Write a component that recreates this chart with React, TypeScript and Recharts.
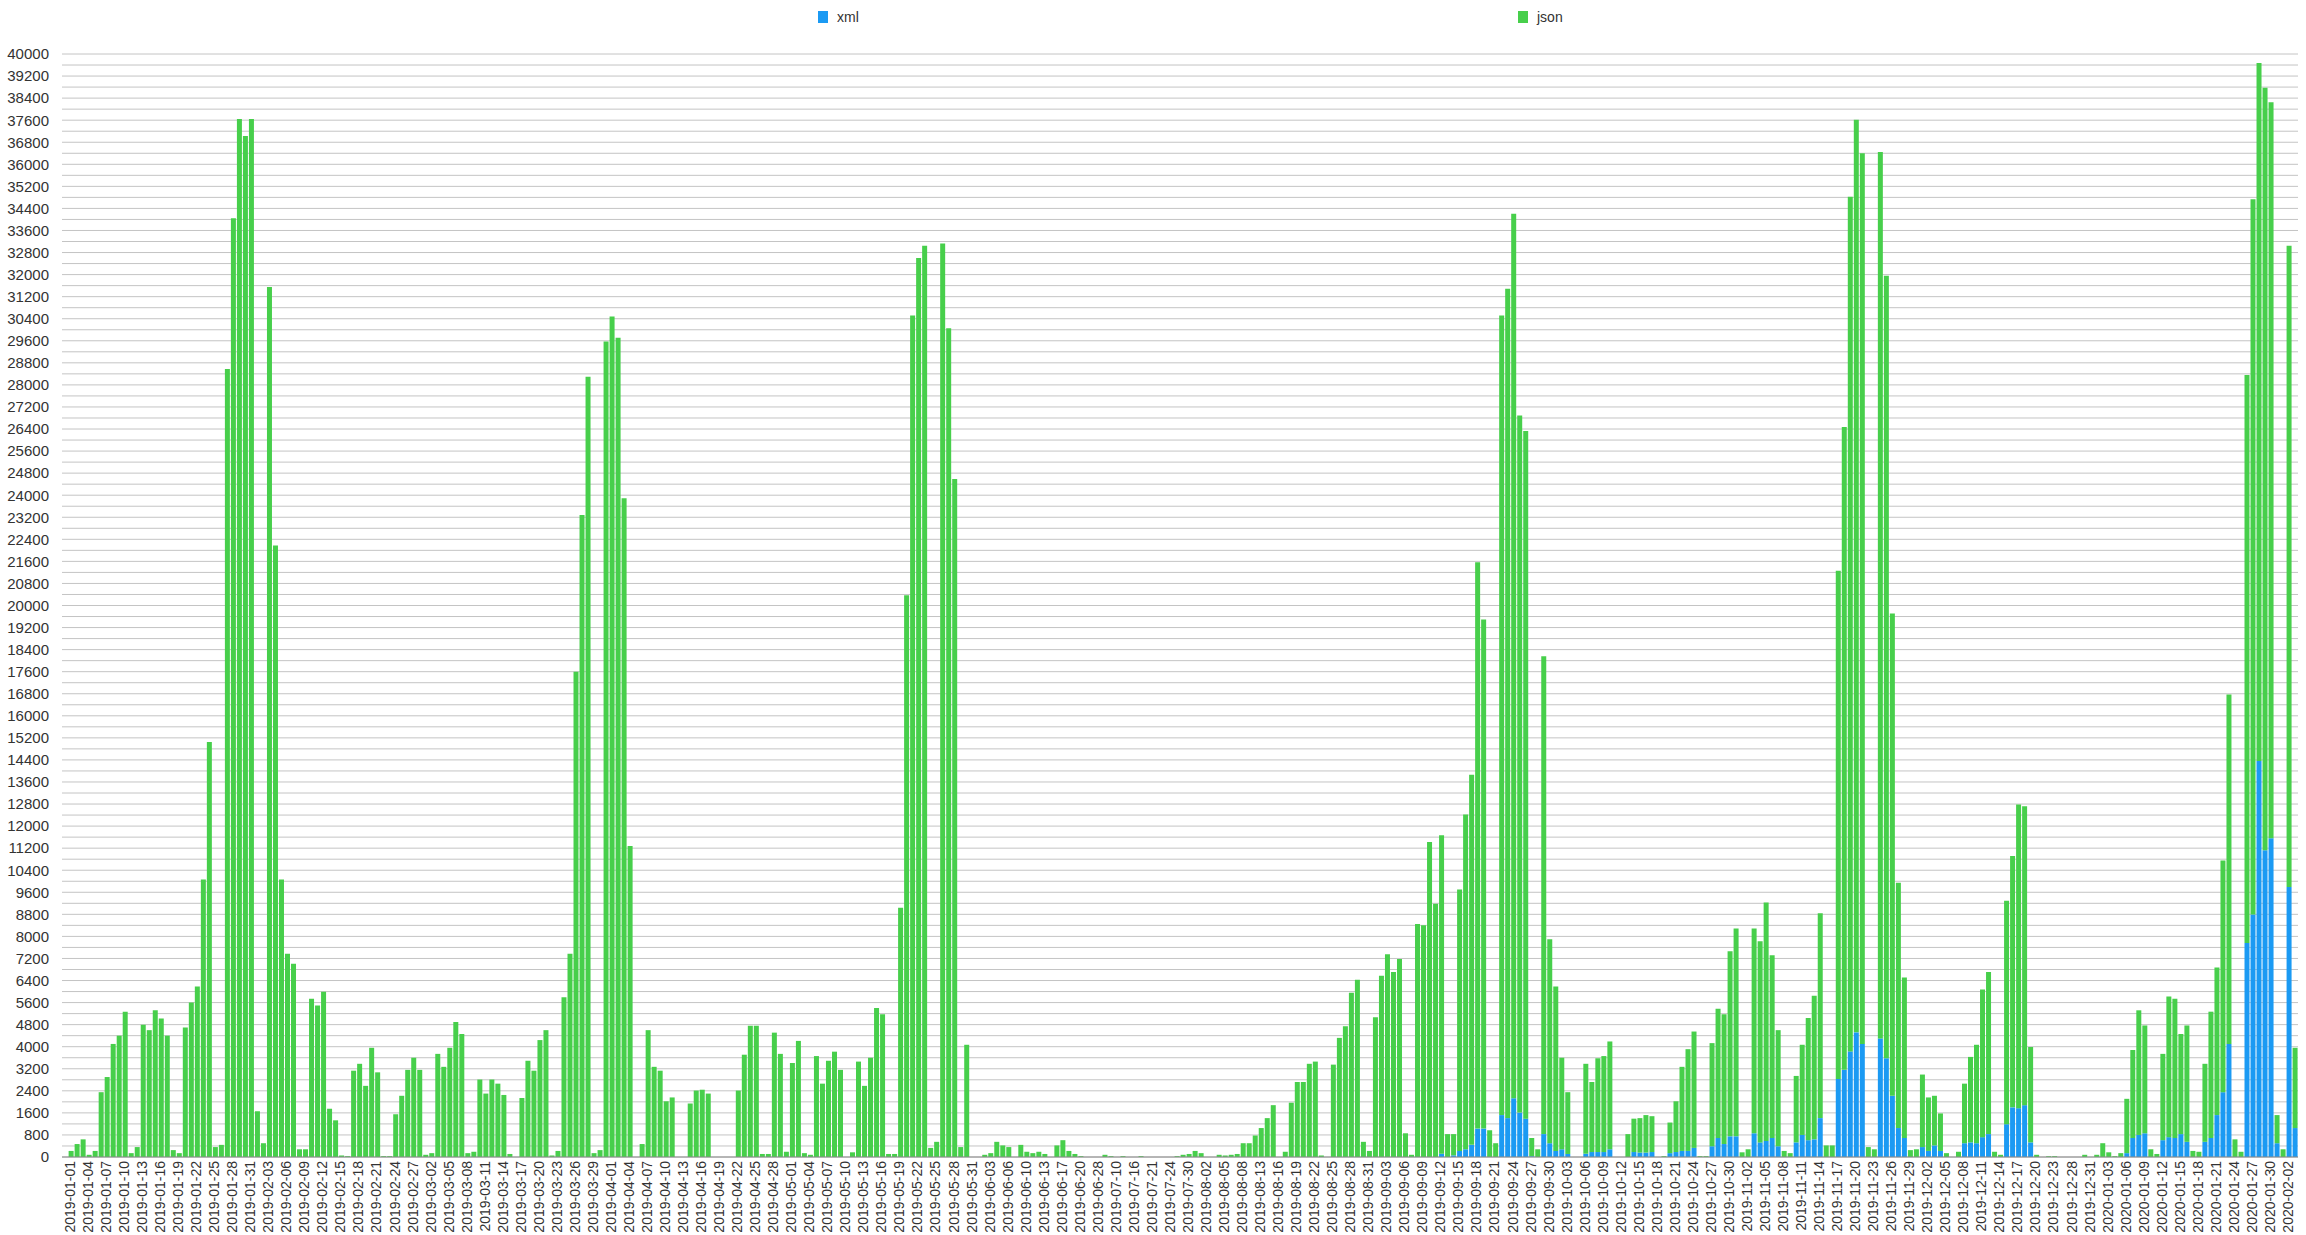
import { BarChart, Bar, XAxis, YAxis, CartesianGrid } from "recharts";

const BLUE = "#1b9af3";
const GREEN = "#47cf4b";
const FONT = "'Liberation Sans', Arial, sans-serif";

// days without any record (they are not on the axis at all)
const MISSING_DAYS = [
  "2019-06-09", "2019-06-15", "2019-06-22", "2019-06-23", "2019-06-24", "2019-06-26", "2019-06-27",
  "2019-06-29", "2019-06-30", "2019-07-02", "2019-07-03", "2019-07-04", "2019-07-06", "2019-07-07",
  "2019-07-08", "2019-07-09", "2019-07-11", "2019-07-13", "2019-07-14", "2019-07-17", "2019-07-20",
  "2019-07-26", "2019-07-28", "2019-07-29", "2019-08-10", "2019-08-11", "2019-12-25", "2019-12-27",
];
const FIRST_DAY = "2019-01-01";
const LAST_DAY = "2020-02-04";

// json requests per day, one array per month
const JSON_2019_01 = [0, 220, 470, 640, 80, 220, 2350, 2900, 4100, 4400, 5270, 140, 360, 4800, 4600, 5320, 5020, 4400, 250, 140, 4700, 5600, 6180, 10060, 15050, 360, 440, 28580, 34040, 37640, 37030];
const JSON_2019_02 = [37640, 1660, 500, 31550, 22180, 10060, 7370, 7010, 280, 280, 5740, 5490, 5990, 1750, 1330, 55, 30, 3130, 3380, 2580, 3960, 3070, 30, 30, 1550, 2220, 3160, 3600];
const JSON_2019_03 = [3160, 80, 140, 3740, 3270, 3960, 4900, 4460, 140, 190, 2810, 2300, 2810, 2660, 2250, 110, 0, 2140, 3490, 3130, 4240, 4600, 55, 220, 5790, 7370, 17600, 23280, 28300, 140, 250];
const JSON_2019_04 = [29570, 30480, 29710, 23890, 11280, 0, 470, 4600, 3270, 3130, 2020, 2160, 0, 0, 1940, 2410, 2440, 2300, 0, 0, 0, 0, 2410, 3710, 4760, 4760, 110, 110, 4510, 3740];
const JSON_2019_05 = [190, 3410, 4210, 140, 80, 3660, 2660, 3490, 3820, 3160, 0, 170, 3460, 2580, 3600, 5400, 5180, 110, 110, 9040, 20370, 30520, 32600, 33050, 330, 550, 33130, 30050, 24590, 360, 4070];
const JSON_2019_06 = [0, 0, 80, 140, 550, 420, 360, 0, 440, 190, 140, 190, 110, 0, 420, 610, 220, 110, 30, 0, 0];
const JSON_2019_07 = [0, 80, 30, 0, 30, 0, 0, 30, 0, 0, 0, 0, 0, 30, 80, 110];
const JSON_2019_08 = [220, 140, 0, 0, 80, 55, 80, 110, 500, 500, 780, 1050, 1410, 1880, 0, 190, 1970, 2720, 2720, 3380, 3460, 55, 0, 3350, 4320, 4740, 5960, 6430, 550];
const JSON_2019_09 = [220, 5070, 6570, 7350, 6710, 7180, 860, 80, 8450, 8400, 11420, 9180, 11550, 830, 770, 9480, 12140, 13420, 20540, 18460, 970, 500, 29000, 30080, 32080, 25280, 24940, 660, 280, 17330];
const JSON_2019_10 = [7400, 5960, 3320, 2240, 0, 0, 3260, 2540, 3400, 3480, 3910, 0, 0, 830, 1210, 1250, 1360, 1300, 0, 30, 1110, 1840, 3050, 3690, 4220, 30, 30, 3740, 4690, 4710, 6710];
const JSON_2019_11 = [7540, 170, 280, 7430, 7290, 8650, 6630, 4210, 220, 140, 2410, 3270, 4430, 5210, 7430, 420, 420, 18430, 23310, 30990, 33100, 32300, 360, 280, 32150, 28380, 17490, 8900, 5820, 250];
const JSON_2019_12 = [280, 2630, 1940, 1800, 1360, 140, 0, 190, 2160, 3100, 3570, 5350, 5880, 190, 80, 8100, 9120, 11010, 10840, 3460, 80, 0, 30, 30, 0, 0, 0, 0, 80];
const JSON_2020_01 = [0, 80, 500, 170, 30, 140, 1970, 3190, 4520, 3910, 280, 110, 3130, 5100, 5050, 3630, 4220, 220, 190, 2830, 4580, 5350, 8400, 12670, 640, 190, 20600, 25940, 25310, 27660, 26690];
const JSON_2020_02 = [1020, 280, 23260, 2910];

// xml requests per day, first seen in September 2019
const XML_2019_09 = [0, 0, 0, 0, 0, 0, 0, 0, 0, 0, 0, 0, 120, 0, 60, 220, 280, 440, 1030, 1030, 0, 0, 1520, 1410, 2130, 1610, 1390, 30, 0, 830];
const XML_2019_10 = [500, 220, 280, 110, 0, 0, 120, 180, 180, 180, 280, 0, 0, 0, 180, 160, 160, 180, 0, 0, 140, 180, 220, 220, 330, 0, 0, 390, 690, 470, 750];
const XML_2019_11 = [750, 0, 0, 860, 530, 580, 690, 390, 0, 0, 530, 800, 610, 640, 1410, 0, 0, 2830, 3160, 3830, 4520, 4100, 0, 0, 4300, 3580, 2220, 1050, 690, 0];
const XML_2019_12 = [0, 360, 220, 420, 220, 0, 0, 0, 500, 530, 500, 720, 830, 0, 0, 1190, 1800, 1770, 1880, 530, 0, 0, 0, 0, 0, 0, 0, 0, 0];
const XML_2020_01 = [0, 0, 0, 0, 0, 0, 140, 690, 800, 860, 0, 0, 610, 720, 690, 830, 550, 0, 0, 550, 690, 1520, 2350, 4100, 0, 0, 7760, 8790, 14360, 11120, 11560];
const XML_2020_02 = [500, 0, 9790, 1050];

const Y_TICKS = [
  0, 800, 1600, 2400, 3200, 4000, 4800, 5600, 6400, 7200, 8000, 8800, 9600, 10400, 11200, 12000, 12800,
  13600, 14400, 15200, 16000, 16800, 17600, 18400, 19200, 20000, 20800, 21600, 22400, 23200, 24000,
  24800, 25600, 26400, 27200, 28000, 28800, 29600, 30400, 31200, 32000, 32800, 33600, 34400, 35200,
  36000, 36800, 37600, 38400, 39200, 40000,
];
// grid has a line halfway between labelled ticks as well
const GRID_VALUES = Y_TICKS.flatMap((v) => (v < 40000 ? [v, v + 400] : [v]));

const JSON_VALUES = [
  ...JSON_2019_01, ...JSON_2019_02, ...JSON_2019_03, ...JSON_2019_04, ...JSON_2019_05, ...JSON_2019_06,
  ...JSON_2019_07, ...JSON_2019_08, ...JSON_2019_09, ...JSON_2019_10, ...JSON_2019_11, ...JSON_2019_12,
  ...JSON_2020_01, ...JSON_2020_02,
];
const XML_VALUES = [...XML_2019_09, ...XML_2019_10, ...XML_2019_11, ...XML_2019_12, ...XML_2020_01, ...XML_2020_02];

function listDays(): string[] {
  const out: string[] = [];
  const d = new Date(FIRST_DAY + "T00:00:00Z");
  const end = new Date(LAST_DAY + "T00:00:00Z");
  while (d <= end) {
    const s = d.toISOString().slice(0, 10);
    if (!MISSING_DAYS.includes(s)) out.push(s);
    d.setUTCDate(d.getUTCDate() + 1);
  }
  return out;
}

const DAYS = listDays();
const xmlStart = DAYS.length - XML_VALUES.length;
const data = DAYS.map((day, i) => ({
  day,
  xml: i >= xmlStart ? XML_VALUES[i - xmlStart] : 0,
  json: JSON_VALUES[i] ?? 0,
}));

function LegendItem({ color, label, left }: { color: string; label: string; left: number }) {
  return (
    <div style={{ position: "absolute", left, top: 9, display: "flex", alignItems: "center", fontSize: 14, color: "#333" }}>
      <span style={{ width: 10, height: 12, background: color, display: "inline-block", marginRight: 9 }} />
      <span>{label}</span>
    </div>
  );
}

export default function App() {
  return (
    <div style={{ position: "absolute", left: 0, top: 0, width: 2306, height: 1235, background: "#fff", fontFamily: FONT }}>
      <LegendItem color={BLUE} label="xml" left={818} />
      <LegendItem color={GREEN} label="json" left={1518} />
      <BarChart width={2306} height={1235} data={data} margin={{ top: 54, right: 8, bottom: 0, left: 0 }} barCategoryGap="10%">
        <CartesianGrid vertical={false} horizontalValues={GRID_VALUES} stroke="#c4c4c4" />
        <XAxis
          dataKey="day"
          interval={2}
          angle={-90}
          height={78}
          tickLine={false}
          tickSize={0}
          tickMargin={4}
          axisLine={{ stroke: "#8a8a8a" }}
          tick={{ fontSize: 14, fill: "#333", fontFamily: FONT, textAnchor: "end", verticalAnchor: "middle" }}
        />
        <YAxis
          domain={[0, 40000]}
          ticks={Y_TICKS}
          interval={0}
          width={62}
          axisLine={false}
          tickLine={false}
          tickSize={6}
          tickMargin={7}
          tick={{ fontSize: 15, fill: "#333", fontFamily: FONT }}
        />
        <Bar dataKey="xml" stackId="a" fill={BLUE} isAnimationActive={false} />
        <Bar dataKey="json" stackId="a" fill={GREEN} isAnimationActive={false} />
      </BarChart>
    </div>
  );
}
